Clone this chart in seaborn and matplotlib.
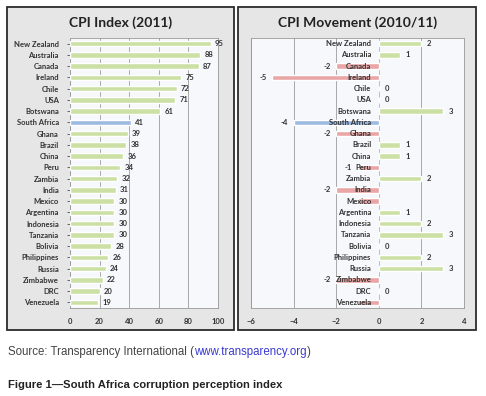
import matplotlib
matplotlib.use("Agg")
import matplotlib.pyplot as plt
from matplotlib.patches import Rectangle
from matplotlib.transforms import offset_copy
import seaborn as sns

# data
countries = ["New Zealand", "Australia", "Canada", "Ireland", "Chile", "USA", "Botswana",
             "South Africa", "Ghana", "Brazil", "China", "Peru", "Zambia", "India", "Mexico",
             "Argentina", "Indonesia", "Tanzania", "Bolivia", "Philippines", "Russia",
             "Zimbabwe", "DRC", "Venezuela"]
cpi_2011 = [95, 88, 87, 75, 72, 71, 61, 41, 39, 38, 36, 34, 32, 31, 30, 30, 30, 30, 28, 26, 24, 22, 20, 19]
cpi_change = [2, 1, -2, -5, 0, 0, 3, -4, -2, 1, 1, -1, 2, -2, -1, 1, 2, 3, 0, 2, 3, -2, 0, -1]
left_ticks = [0, 20, 40, 60, 80, 100]
right_ticks = [-6, -4, -2, 0, 2, 4]
hidden_change_labels = ["Mexico", "Venezuela"]  # covered by the country names in the original

GREEN = "#cce0a6"
RED = "#eaa6a6"
BLUE = "#9cb9e0"
TXT = "#333333"

sns.set_theme(style="white")
plt.rcParams["font.family"] = ["Lato", "DejaVu Sans"]

fig = plt.figure(figsize=(4.86, 3.96), dpi=100)
W, H = 486, 396


def fbox(x0, y0, x1, y1):
    # pixel box (top-left origin) -> figure fraction
    return [x0 / W, 1 - y1 / H, (x1 - x0) / W, (y1 - y0) / H]


# grey panel boxes (behind the axes)
for x0, x1 in [(7, 234), (238, 476)]:
    l, b, w, h = fbox(x0, 7, x1, 330)
    fig.patches.append(Rectangle((l, b), w, h, transform=fig.transFigure,
                                 facecolor="#e6e6e6", edgecolor="#2b2b2b", lw=1.3, zorder=-5))

fig.text(121 / W, 1 - 23 / H, "CPI Index (2011)", ha="center", va="center",
         fontsize=10, fontweight="bold", color="#222222")
fig.text(358 / W, 1 - 23 / H, "CPI Movement (2010/11)", ha="center", va="center",
         fontsize=10, fontweight="bold", color="#222222")

# ---- left panel: CPI index ----
ax1 = fig.add_axes(fbox(70, 38, 218, 308))
ax1.set_zorder(2)
ax1.set_facecolor("#f6f8fc")
colors1 = [BLUE if c == "South Africa" else GREEN for c in countries]
sns.barplot(x=cpi_2011, y=countries, hue=countries, palette=colors1, legend=False,
            orient="h", width=0.5, saturation=1, ax=ax1, zorder=3)
ax1.set_xlim(0, 100)
ax1.set_xticks(left_ticks)
ax1.grid(axis="x", color="#a8a8a8", lw=0.7, zorder=0)
ax1.tick_params(axis="y", length=2, pad=6, labelsize=5.5, colors=TXT, left=True, width=0.5)
ax1.tick_params(axis="x", length=0, pad=7, labelsize=5.5, colors=TXT)
for lab in ax1.get_yticklabels() + ax1.get_xticklabels():
    lab.set_fontweight("bold")
for s in ax1.spines.values():
    s.set_color("#999999")
    s.set_linewidth(0.6)
ax1.set_xlabel("")
ax1.set_ylabel("")
for i, v in enumerate(cpi_2011):
    ax1.text(v, i, str(v), transform=offset_copy(ax1.transData, fig=fig, x=3, y=0, units="points"),
             ha="left", va="center", fontsize=5.5, fontweight="bold", color=TXT, zorder=4)

# ---- right panel: CPI movement ----
ax2 = fig.add_axes(fbox(251, 38, 464, 308))
ax2.set_zorder(2)
ax2.set_facecolor("#f6f8fc")
colors2 = []
for c, v in zip(countries, cpi_change):
    if c == "South Africa":
        colors2.append(BLUE)
    elif v < 0:
        colors2.append(RED)
    else:
        colors2.append(GREEN)
sns.barplot(x=cpi_change, y=countries, hue=countries, palette=colors2, legend=False,
            orient="h", width=0.5, saturation=1, ax=ax2, zorder=3)
ax2.set_xlim(-6, 4)
ax2.set_xticks(right_ticks)
ax2.grid(axis="x", color="#a8a8a8", lw=0.7, zorder=0)
ax2.tick_params(axis="y", left=False, labelleft=False)
ax2.tick_params(axis="x", length=0, pad=7, labelsize=5.5, colors=TXT)
for lab in ax2.get_xticklabels():
    lab.set_fontweight("bold")
for s in ax2.spines.values():
    s.set_color("#999999")
    s.set_linewidth(0.6)
ax2.set_xlabel("")
ax2.set_ylabel("")
ax2.axvline(0, color="#c4c4c4", lw=0.6, zorder=2)
name_tr = offset_copy(ax2.transData, fig=fig, x=-5.5, y=0, units="points")
pos_tr = offset_copy(ax2.transData, fig=fig, x=4, y=0, units="points")
neg_tr = offset_copy(ax2.transData, fig=fig, x=-4, y=0, units="points")
for i, (c, v) in enumerate(zip(countries, cpi_change)):
    ax2.text(0, i, c, transform=name_tr, ha="right", va="center",
             fontsize=5.5, fontweight="bold", color=TXT, zorder=5)
    if c in hidden_change_labels:
        continue
    if v >= 0:
        ax2.text(v, i, str(v), transform=pos_tr, ha="left", va="center",
                 fontsize=5.5, fontweight="bold", color=TXT, zorder=4)
    else:
        ax2.text(v, i, str(v), transform=neg_tr, ha="right", va="center",
                 fontsize=5.5, fontweight="bold", color=TXT, zorder=4)

# ---- source + caption ----
src_y = 1 - 352 / H
cap_font = ["Liberation Sans", "DejaVu Sans"]
t1 = fig.text(8 / W, src_y, "Source: Transparency International (", fontsize=8.3,
              family=cap_font, color="#444444", va="center")
fig.canvas.draw()
r = fig.canvas.get_renderer()
x = t1.get_window_extent(r).x1 / fig.bbox.width
t2 = fig.text(x, src_y, "www.transparency.org", fontsize=8.3,
              family=cap_font, color="#3a3ad0", va="center")
x = t2.get_window_extent(r).x1 / fig.bbox.width
fig.text(x, src_y, ")", fontsize=8.3, family=cap_font, color="#444444", va="center")
fig.text(8 / W, 1 - 385 / H, "Figure 1\u2014South Africa corruption perception index",
         fontsize=8.1, fontweight="bold", family=cap_font, color="#222222", va="center")

fig.savefig("out.png", dpi=100, facecolor="white")
